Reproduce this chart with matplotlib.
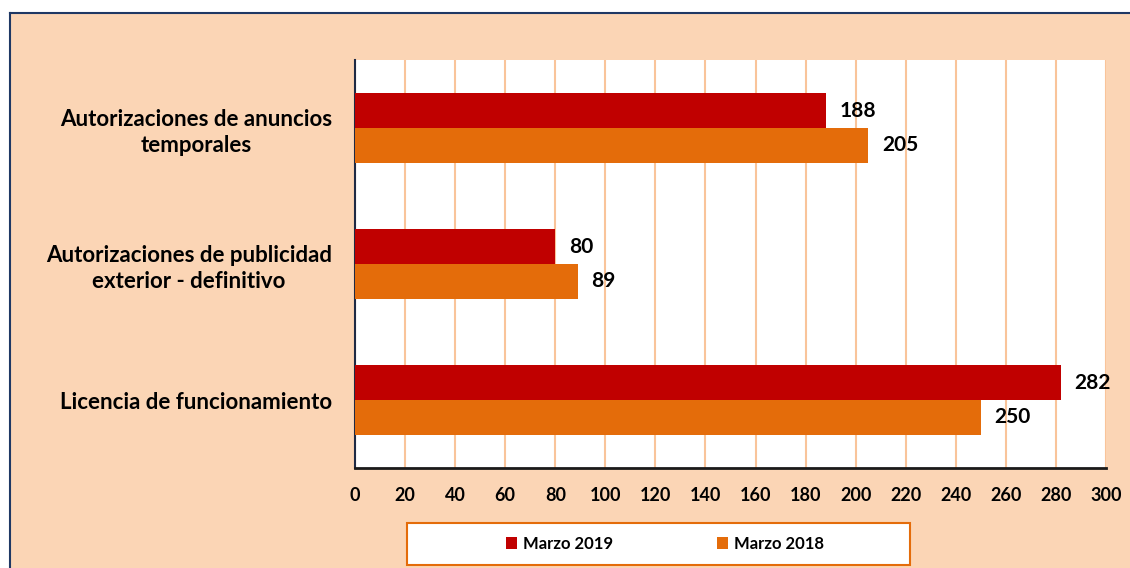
import matplotlib.pyplot as plt
from matplotlib.patches import Rectangle
from matplotlib.lines import Line2D
import numpy as np

plt.rcParams['font.family'] = ['Lato', 'DejaVu Sans']

# data
categories = ['Autorizaciones de anuncios\ntemporales',
              'Autorizaciones de publicidad\nexterior - definitivo',
              'Licencia de funcionamiento']
marzo_2019 = [188, 80, 282]
marzo_2018 = [205, 89, 250]
series_names = ['Marzo 2019', 'Marzo 2018']
x_ticks = list(range(0, 301, 20))

red = '#C00000'
orange = '#E46C0A'
peach = '#FBD5B5'
grid_col = '#F9C49A'
border = '#1F3864'

fig = plt.figure(figsize=(11.3, 5.68), dpi=100)
fig.patch.set_facecolor('white')

# chart background and its top/left border
W, H = 1130, 568
fig.patches.append(Rectangle((9 / W, 0), 1 - 9 / W, 1 - 12 / H, transform=fig.transFigure,
                             facecolor=peach, edgecolor='none', zorder=-2))
fig.lines.append(Line2D([9.5 / W, 9.5 / W], [0, 1 - 12.5 / H], transform=fig.transFigure,
                        color=border, lw=1.5, zorder=-1))
fig.lines.append(Line2D([9.5 / W, 1], [1 - 12.5 / H, 1 - 12.5 / H], transform=fig.transFigure,
                        color=border, lw=1.5, zorder=-1))

ax = fig.add_axes([355 / W, 1 - 468 / H, (1106 - 355) / W, (468 - 60) / H])
ax.set_facecolor('white')

y = np.arange(len(categories))
h = 0.257
ax.barh(y - h / 2, marzo_2019, height=h, color=red, label=series_names[0], zorder=3)
ax.barh(y + h / 2, marzo_2018, height=h, color=orange, label=series_names[1], zorder=3)

for yi, v in zip(y, marzo_2019):
    ax.text(v + 5.5, yi - h / 2, str(v), va='center', ha='left', fontsize=15, fontweight='bold')
for yi, v in zip(y, marzo_2018):
    ax.text(v + 5.5, yi + h / 2, str(v), va='center', ha='left', fontsize=15, fontweight='bold')

ax.set_xlim(0, 300)
ax.set_ylim(2.5, -0.5)
ax.set_xticks(x_ticks)
ax.set_xticklabels([str(t) for t in x_ticks], fontsize=13, fontweight='bold')
ax.set_yticks(y)
ax.set_yticklabels(categories, fontsize=16, fontweight='bold', multialignment='center',
                   linespacing=1.3)
ax.tick_params(axis='both', length=0)
ax.tick_params(axis='y', pad=16.5)
ax.tick_params(axis='x', pad=14)
ax.grid(axis='x', color=grid_col, lw=1.5, zorder=0)
ax.set_axisbelow(True)
for s in ['top', 'right']:
    ax.spines[s].set_visible(False)
ax.spines['left'].set_color('#1F2A44')
ax.spines['bottom'].set_color('#1A1A1A')
ax.spines['left'].set_linewidth(1.5)
ax.spines['bottom'].set_linewidth(2)

# legend box
fig.patches.append(Rectangle((407 / W, 3 / H), (910 - 407) / W, (565 - 523) / H,
                             transform=fig.transFigure, facecolor='white',
                             edgecolor=orange, lw=1.5, zorder=1))
handles, labels = ax.get_legend_handles_labels()
fig.legend(handles, labels, loc='center', bbox_to_anchor=(665 / W, 1 - 544 / H), ncol=2,
           frameon=False, prop={'weight': 'bold', 'size': 12}, handlelength=0.7,
           handleheight=0.7, handletextpad=0.35, columnspacing=6.2)

fig.savefig('out.png', dpi=100)
